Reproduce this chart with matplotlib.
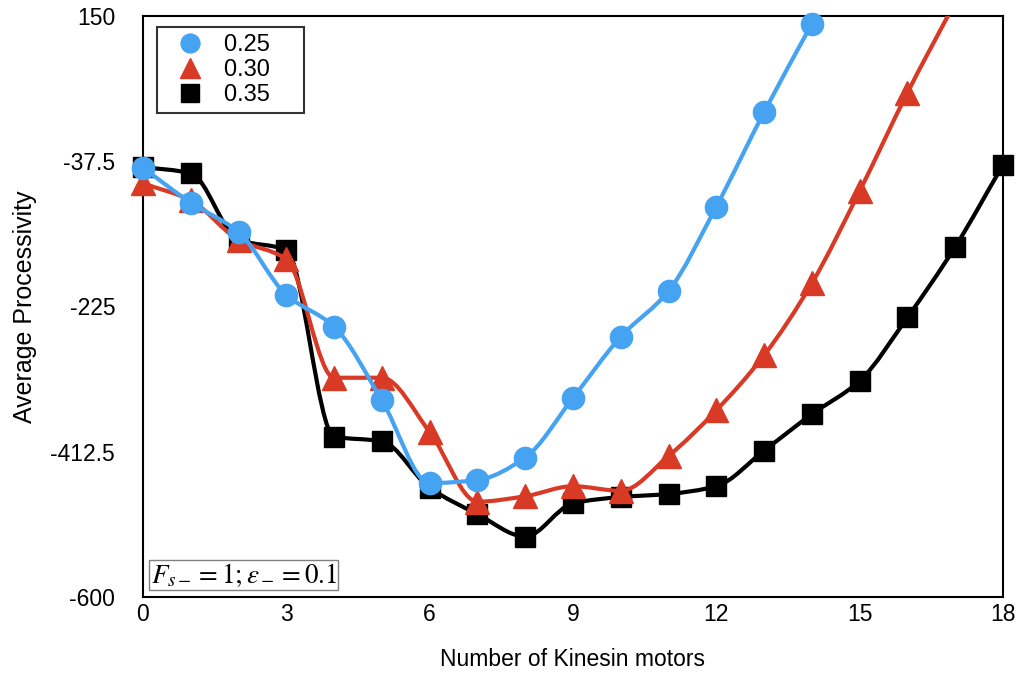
import numpy as np
import matplotlib.pyplot as plt
from matplotlib.path import Path
from matplotlib.patches import PathPatch

plt.rcParams["font.family"] = ["Liberation Sans", "DejaVu Sans"]
plt.rcParams["mathtext.fontset"] = "stix"

# values
motors_025 = [0, 1, 2, 3, 4, 5, 6, 7, 8, 9, 10, 11, 12, 13, 14]
proc_025 = [-46, -91, -129, -210, -251, -346, -453, -449, -420, -343,
            -264, -205, -96, 26, 140]

motors_030 = [0, 1, 2, 3, 4, 5, 6, 7, 8, 9, 10, 11, 12, 13, 14, 15, 16, 17]
proc_030 = [-66, -88, -139, -164, -317, -317, -387, -477, -470, -457,
            -463, -418, -359, -288, -195, -76, 51, 168]

motors_035 = list(range(19))
proc_035 = [-45, -53, -139, -152, -393, -399, -459, -493, -522, -479,
            -471, -467, -457, -411, -364, -321, -239, -148, -42]

series = [
    ("0.35", motors_035, proc_035, "black", "s", 15),
    ("0.30", motors_030, proc_030, "#d93a26", "^", 17),
    ("0.25", motors_025, proc_025, "#45a3f2", "o", 16),
]


def smooth_path(x, y):
    """Monotone cubic (Fritsch-Carlson) curve as a bezier path."""
    x = np.asarray(x, float)
    y = np.asarray(y, float)
    h = np.diff(x)
    d = np.diff(y) / h
    m = np.zeros_like(y)
    m[0], m[-1] = d[0], d[-1]
    for i in range(1, len(y) - 1):
        if d[i - 1] * d[i] <= 0:
            m[i] = 0
        else:
            m[i] = 2 / (1 / d[i - 1] + 1 / d[i])
    verts = [(x[0], y[0])]
    codes = [Path.MOVETO]
    for i in range(len(x) - 1):
        verts += [(x[i] + h[i] / 3, y[i] + m[i] * h[i] / 3),
                  (x[i + 1] - h[i] / 3, y[i + 1] - m[i + 1] * h[i] / 3),
                  (x[i + 1], y[i + 1])]
        codes += [Path.CURVE4] * 3
    return Path(verts, codes)


fig = plt.figure(figsize=(10.24, 6.75), dpi=100)
ax = fig.add_axes([0.1396, 0.1156, 0.8399, 0.8607])
ax.set_xlim(0, 18)
ax.set_ylim(-600, 150)

handles = []
for z, (label, xs, ys, color, marker, ms) in enumerate(series):
    patch = PathPatch(smooth_path(xs, ys), facecolor="none", edgecolor=color,
                      lw=3, zorder=2 + 2 * z)
    ax.add_patch(patch)
    xs_in = [a for a, b in zip(xs, ys) if b <= 150]
    ys_in = [b for b in ys if b <= 150]
    ax.plot(xs_in, ys_in, linestyle="none", marker=marker, ms=ms,
            color=color, clip_on=False, zorder=3 + 2 * z)
    h, = ax.plot([], [], color=color, linestyle="none", marker=marker,
                 ms=ms * 0.85, label=label + "    ")
    handles.append(h)

ax.set_xticks([0, 3, 6, 9, 12, 15, 18])
ax.set_yticks([-600, -412.5, -225, -37.5, 150])
ax.set_yticklabels(["-600", "-412.5", "-225", "-37.5", "150"])
ax.tick_params(length=0, labelsize=16.5)
ax.tick_params(axis="y", pad=20)
ax.tick_params(axis="x", pad=4)
for s in ax.spines.values():
    s.set_linewidth(1.5)

ax.set_xlabel("Number of Kinesin motors", fontsize=16.5, labelpad=16)
ax.set_ylabel("Average Processivity", fontsize=18, labelpad=10)

leg = ax.legend(handles=handles[::-1], loc="upper left", fontsize=17,
                frameon=True, fancybox=False, edgecolor="black",
                handlelength=2.2, borderaxespad=0.3, labelspacing=0.12,
                handletextpad=0.35, borderpad=0.3,
                bbox_to_anchor=(0.008, 0.993))
leg.get_frame().set_linewidth(1.5)

ax.text(0.009, 0.014, r"$F_{s-} = 1; \epsilon_- = 0.1$", transform=ax.transAxes,
        fontsize=19.5, ha="left", va="bottom",
        bbox=dict(boxstyle="square,pad=0.05", facecolor="white",
                  edgecolor="gray", lw=1))

fig.savefig("out.png", dpi=100)
